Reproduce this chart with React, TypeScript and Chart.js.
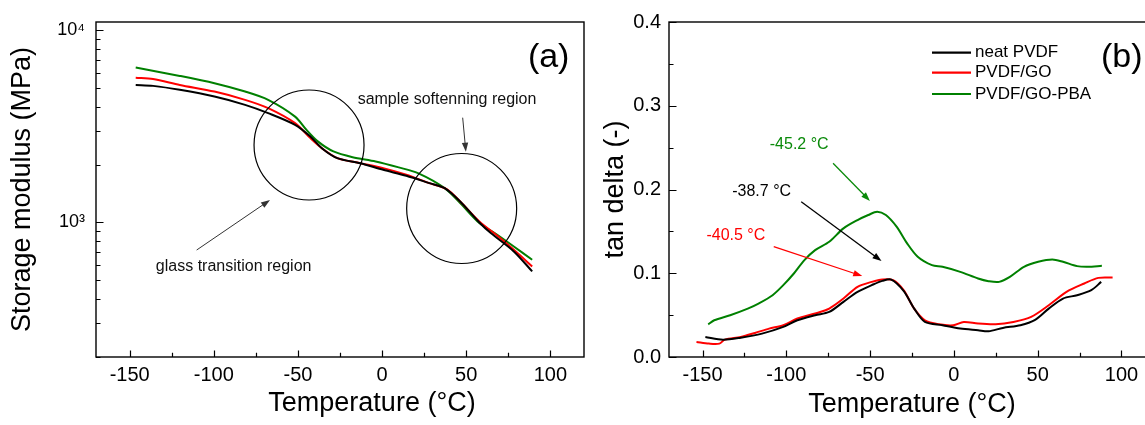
import React, { useEffect, useRef } from 'react';
import { Chart, registerables } from 'chart.js';

Chart.register(...registerables);

const FONT = "'Liberation Sans', Arial, sans-serif";

// ---------- Panel (a): storage modulus ----------
const modNeatT = [-146.4, -136.1, -120.2, -99.6, -81.4, -67.7, -51.7, -42.6, -35.8, -26.6, -12.9, 0.7, 14.4, 28.1, 37.2, 46.4, 57.8, 64.6, 78.3, 89.2];
const modNeat = [5183, 5123, 4887, 4508, 4083, 3698, 3214, 2795, 2432, 2159, 2032, 1877, 1747, 1600, 1507, 1285, 1000, 881, 707, 557];
const modGoT = [-146.4, -136.1, -120.2, -99.6, -81.4, -67.7, -51.7, -42.6, -35.8, -26.6, -12.9, 0.7, 14.4, 28.1, 38.4, 46.4, 57.8, 69.1, 78.3, 89.2];
const modGo = [5654, 5569, 5183, 4786, 4335, 3926, 3281, 2742, 2432, 2159, 2032, 1915, 1770, 1600, 1490, 1285, 1012, 845, 721, 591];
const modPbaT = [-146.4, -120.2, -99.6, -81.4, -67.7, -51.7, -44.9, -38, -28.9, -17.5, -3.8, 9.9, 21.3, 37.2, 46.4, 57.8, 66.9, 78.3, 89.2];
const modPba = [6376, 5771, 5289, 4786, 4335, 3548, 3027, 2630, 2339, 2184, 2075, 1932, 1803, 1507, 1262, 993, 881, 750, 640];

// ---------- Panel (b): tan delta ----------
const tanNeatT = [-148.3, -137.8, -127.2, -114.5, -101.8, -93.4, -82.8, -74.4, -65.9, -57.5, -49, -42.7, -37.4, -30, -23.7, -17.3, -6.8, 3.8, 14.4, 20.7, 29.2, 39.7, 48.2, 56.6, 65.1, 73.5, 82, 87.9];
const tanNeat = [0.0239, 0.0207, 0.0231, 0.0279, 0.0359, 0.0439, 0.0499, 0.0538, 0.0658, 0.0778, 0.0858, 0.0909, 0.0925, 0.079, 0.0578, 0.0419, 0.0379, 0.0339, 0.0319, 0.0307, 0.0347, 0.0379, 0.0439, 0.0578, 0.0698, 0.0738, 0.0798, 0.0897];
const tanGoT = [-153.6, -146.2, -139.9, -136.7, -127.2, -118.7, -110.3, -101.8, -93.4, -82.8, -74.4, -65.9, -57.5, -49, -42.7, -36.3, -30, -23.7, -17.3, -8.9, -0.4, 5.9, 14.4, 24.9, 35.5, 46.1, 56.6, 67.2, 77.8, 86.2, 94.7];
const tanGo = [0.018, 0.016, 0.016, 0.0207, 0.0239, 0.0287, 0.0339, 0.0379, 0.0459, 0.0519, 0.0578, 0.0698, 0.0838, 0.0897, 0.0925, 0.0917, 0.0798, 0.0578, 0.0439, 0.0391, 0.0379, 0.0419, 0.0399, 0.0391, 0.0419, 0.0479, 0.0618, 0.0778, 0.0878, 0.0945, 0.0949];
const tanPbaT = [-146.6, -143, -133.5, -123, -116.6, -108.2, -101.8, -95.5, -89.2, -82.8, -74.4, -65.9, -57.5, -51.1, -45.8, -40.6, -34.2, -27.9, -21.6, -13.1, -6.8, 3.8, 14.4, 20.7, 27, 33.4, 41.8, 50.3, 58.7, 65.1, 73.5, 79.9, 88.3];
const tanPba = [0.039, 0.0439, 0.0499, 0.0578, 0.0638, 0.0738, 0.0858, 0.0997, 0.1157, 0.1276, 0.1376, 0.1536, 0.1635, 0.1695, 0.1735, 0.1695, 0.1556, 0.1356, 0.1197, 0.1097, 0.1077, 0.1017, 0.0937, 0.0905, 0.0897, 0.0957, 0.1077, 0.1137, 0.1165, 0.1137, 0.1085, 0.1077, 0.1089];

const seriesNames = ['neat PVDF', 'PVDF/GO', 'PVDF/GO-PBA'];
const seriesColors = ['#000000', '#ff0000', '#008000'];

const xTickValues = [-150, -100, -50, 0, 50, 100];

// ---------- Annotations (data coordinates) ----------
const circlesA = [
  { at: [-43.4, 2526] },
  { at: [47.3, 1182] },
];
const labelsA = [
  { text: 'sample softenning region', at: [38.6, 4325], color: '#111', size: 16, align: 'center' },
  { text: 'glass transition region', at: [-88.2, 589], color: '#111', size: 16, align: 'center' },
  { text: '(a)', at: [99, 7148], color: '#000', size: 34, align: 'center' },
];
const arrowsA = [
  { from: [47.9, 3502], to: [49.8, 2331], color: '#333', width: 1 },
  { from: [-110.2, 719], to: [-66.6, 1308], color: '#333', width: 1 },
];
const labelsB = [
  { text: '-45.2 °C', at: [-92.3, 0.2531], color: '#0a8a0a', size: 16, align: 'center' },
  { text: '-38.7 °C', at: [-114.7, 0.1974], color: '#000', size: 16, align: 'center' },
  { text: '-40.5 °C', at: [-130.1, 0.1445], color: '#ff0000', size: 16, align: 'center' },
  { text: '(b)', at: [87.8, 0.357], color: '#000', size: 34, align: 'left' },
];
const arrowsB = [
  { from: [-72.1, 0.2313], to: [-50.1, 0.1863], color: '#0a8a0a', width: 1.3 },
  { from: [-91.1, 0.1854], to: [-43.2, 0.1146], color: '#000', width: 1.3 },
  { from: [-107.5, 0.1317], to: [-54.7, 0.0967], color: '#ff0000', width: 1.3 },
];

type Pt = [number, number];

function pts(xs: number[], ys: number[]) {
  return xs.map((x, i) => ({ x, y: ys[i] }));
}

function drawArrow(ctx: CanvasRenderingContext2D, x1: number, y1: number, x2: number, y2: number, color: string, width: number) {
  const ang = Math.atan2(y2 - y1, x2 - x1);
  const hl = 9, hw = 3.2;
  ctx.save();
  ctx.strokeStyle = color;
  ctx.fillStyle = color;
  ctx.lineWidth = width;
  ctx.beginPath();
  ctx.moveTo(x1, y1);
  ctx.lineTo(x2 - Math.cos(ang) * hl * 0.8, y2 - Math.sin(ang) * hl * 0.8);
  ctx.stroke();
  ctx.beginPath();
  ctx.moveTo(x2, y2);
  ctx.lineTo(x2 - Math.cos(ang) * hl - Math.sin(ang) * hw, y2 - Math.sin(ang) * hl + Math.cos(ang) * hw);
  ctx.lineTo(x2 - Math.cos(ang) * hl + Math.sin(ang) * hw, y2 - Math.sin(ang) * hl - Math.cos(ang) * hw);
  ctx.closePath();
  ctx.fill();
  ctx.restore();
}

function decorPlugin(cfg: {
  id: string;
  xTitle: string;
  xTitleX: number;
  xTitleY: number;
  yMajorTest: (v: number) => boolean;
  circles?: { at: Pt }[];
  labels: { text: string; at: Pt; color: string; size: number; align: string }[];
  arrows: { from: Pt; to: Pt; color: string; width: number }[];
  legend?: boolean;
}) {
  return {
    id: cfg.id,
    afterDraw(chart: any) {
      const { ctx, chartArea } = chart;
      const xs = chart.scales.x;
      const ys = chart.scales.y;
      const { left, right, top, bottom } = chartArea;
      ctx.save();
      // frame
      ctx.strokeStyle = '#000';
      ctx.lineWidth = 1.4;
      ctx.strokeRect(left, top, right - left, bottom - top);
      // inside ticks
      ctx.lineWidth = 1.2;
      ctx.beginPath();
      xs.ticks.forEach((t: any) => {
        const p = Math.round(xs.getPixelForValue(t.value)) + 0.5;
        const len = t.value % 50 === 0 ? 6.5 : 4.3;
        ctx.moveTo(p, bottom);
        ctx.lineTo(p, bottom - len);
      });
      ys.ticks.forEach((t: any) => {
        const p = Math.round(ys.getPixelForValue(t.value)) + 0.5;
        const len = cfg.yMajorTest(t.value) ? 7.5 : 4.5;
        ctx.moveTo(left, p);
        ctx.lineTo(left + len, p);
      });
      ctx.stroke();
      // circles
      ctx.lineWidth = 1.2;
      (cfg.circles || []).forEach((c) => {
        ctx.beginPath();
        ctx.arc(xs.getPixelForValue(c.at[0]), ys.getPixelForValue(c.at[1]), 55, 0, Math.PI * 2);
        ctx.stroke();
      });
      // arrows
      cfg.arrows.forEach((a) => {
        drawArrow(ctx, xs.getPixelForValue(a.from[0]), ys.getPixelForValue(a.from[1]),
          xs.getPixelForValue(a.to[0]), ys.getPixelForValue(a.to[1]), a.color, a.width);
      });
      // labels
      ctx.textBaseline = 'middle';
      cfg.labels.forEach((l) => {
        ctx.font = `${l.size}px ${FONT}`;
        ctx.fillStyle = l.color;
        ctx.textAlign = l.align as CanvasTextAlign;
        ctx.fillText(l.text, xs.getPixelForValue(l.at[0]), ys.getPixelForValue(l.at[1]));
      });
      // legend
      if (cfg.legend) {
        const rows = [52.7, 72.7, 94];
        chart.data.datasets.forEach((ds: any, i: number) => {
          ctx.strokeStyle = ds.borderColor;
          ctx.lineWidth = 2.2;
          ctx.beginPath();
          ctx.moveTo(left + 263, rows[i]);
          ctx.lineTo(left + 302, rows[i]);
          ctx.stroke();
          ctx.font = `17px ${FONT}`;
          ctx.fillStyle = '#000';
          ctx.textAlign = 'left';
          ctx.fillText(ds.label, left + 306, rows[i]);
        });
      }
      // x axis title
      ctx.font = `27px ${FONT}`;
      ctx.fillStyle = '#000';
      ctx.textAlign = 'center';
      ctx.textBaseline = 'middle';
      ctx.fillText(cfg.xTitle, cfg.xTitleX, cfg.xTitleY);
      ctx.restore();
    },
  };
}

function xScale() {
  return {
    type: 'linear',
    min: -170,
    max: 120,
    afterBuildTicks: (s: any) => {
      const ticks: any[] = [];
      for (let v = -150; v <= 100; v += 25) ticks.push({ value: v });
      s.ticks = ticks;
    },
    afterFit: (s: any) => { s.height = 68; },
    grid: { display: false, drawTicks: false },
    border: { display: false },
    ticks: {
      autoSkip: false,
      maxRotation: 0,
      padding: 6,
      color: '#000',
      font: { family: FONT, size: 20 },
      callback: (v: any) => (xTickValues.includes(Number(v)) ? String(v) : ''),
    },
  };
}

function isDecadeMult(v: number) {
  const m = v / Math.pow(10, Math.floor(Math.log10(v) + 1e-9));
  return Math.abs(m - Math.round(m)) < 1e-6;
}

export default function App() {
  const refA = useRef<HTMLCanvasElement>(null);
  const refB = useRef<HTMLCanvasElement>(null);

  useEffect(() => {
    const dsA = [
      { label: seriesNames[0], data: pts(modNeatT, modNeat), borderColor: seriesColors[0] },
      { label: seriesNames[1], data: pts(modGoT, modGo), borderColor: seriesColors[1] },
      { label: seriesNames[2], data: pts(modPbaT, modPba), borderColor: seriesColors[2] },
    ];
    const dsB = [
      { label: seriesNames[0], data: pts(tanNeatT, tanNeat), borderColor: seriesColors[0] },
      { label: seriesNames[1], data: pts(tanGoT, tanGo), borderColor: seriesColors[1] },
      { label: seriesNames[2], data: pts(tanPbaT, tanPba), borderColor: seriesColors[2] },
    ];
    const common = {
      animation: false,
      responsive: false,
      devicePixelRatio: 1,
      plugins: { legend: { display: false }, tooltip: { enabled: false } },
      elements: { point: { radius: 0 }, line: { borderWidth: 2, tension: 0.3, fill: false } },
    };

    const chartA = new Chart(refA.current as HTMLCanvasElement, {
      type: 'line',
      data: { datasets: dsA as any },
      options: {
        ...common,
        layout: { padding: { left: 0, top: 22, right: 16, bottom: 0 } },
        scales: {
          x: xScale(),
          y: {
            type: 'logarithmic',
            min: 200,
            max: 11000,
            afterBuildTicks: (s: any) => {
              const ticks: any[] = [];
              for (let d = 100; d <= 1000; d *= 10) {
                for (let m = 1; m <= 10; m++) {
                  const v = m * d;
                  if (v >= 200 && v <= 10000 && !ticks.some((t) => t.value === v)) ticks.push({ value: v });
                }
              }
              s.ticks = ticks.filter((t) => isDecadeMult(t.value));
            },
            afterFit: (s: any) => { s.width = 96; },
            grid: { display: false, drawTicks: false },
            border: { display: false },
            ticks: {
              autoSkip: false,
              padding: 11,
              color: '#000',
              font: { family: FONT, size: 18 },
              callback: (v: any) => (Number(v) === 1000 ? '10³' : Number(v) === 10000 ? '10⁴' : ''),
            },
            title: {
              display: true,
              text: 'Storage modulus (MPa)',
              color: '#000',
              font: { family: FONT, size: 27 },
              padding: { top: 6, bottom: 0 },
            },
          },
        },
      } as any,
      plugins: [decorPlugin({
        id: 'decorA',
        xTitle: 'Temperature (°C)',
        xTitleX: 372,
        xTitleY: 404,
        yMajorTest: (v) => v === 1000 || v === 10000,
        circles: circlesA as any,
        labels: labelsA as any,
        arrows: arrowsA as any,
      })],
    });

    const chartB = new Chart(refB.current as HTMLCanvasElement, {
      type: 'line',
      data: { datasets: dsB as any },
      options: {
        ...common,
        layout: { padding: { left: 0, top: 22, right: 20, bottom: 0 } },
        scales: {
          x: xScale(),
          y: {
            type: 'linear',
            min: 0,
            max: 0.4,
            afterBuildTicks: (s: any) => {
              const ticks: any[] = [];
              for (let i = 0; i <= 8; i++) ticks.push({ value: i * 0.05 });
              s.ticks = ticks;
            },
            afterFit: (s: any) => { s.width = 79; },
            grid: { display: false, drawTicks: false },
            border: { display: false },
            ticks: {
              autoSkip: false,
              padding: 8,
              color: '#000',
              font: { family: FONT, size: 20 },
              callback: (v: any) => {
                const n = Number(v) * 10;
                return Math.abs(n - Math.round(n)) < 1e-6 ? (Math.round(n) / 10).toFixed(1) : '';
              },
            },
            title: {
              display: true,
              text: 'tan delta (-)',
              color: '#000',
              font: { family: FONT, size: 27 },
              padding: { top: 9, bottom: 0 },
            },
          },
        },
      } as any,
      plugins: [decorPlugin({
        id: 'decorB',
        xTitle: 'Temperature (°C)',
        xTitleX: 322,
        xTitleY: 405,
        yMajorTest: (v) => Math.abs(v * 10 - Math.round(v * 10)) < 1e-6,
        labels: labelsB as any,
        arrows: arrowsB as any,
        legend: true,
      })],
    });

    return () => {
      chartA.destroy();
      chartB.destroy();
    };
  }, []);

  return (
    <div style={{ position: 'fixed', left: 0, top: 0, width: 1145, height: 425, overflow: 'hidden', background: '#fff' }}>
      <canvas ref={refA} width={600} height={425} style={{ position: 'absolute', left: 0, top: 0, width: 600, height: 425 }} />
      <canvas ref={refB} width={585} height={425} style={{ position: 'absolute', left: 590, top: 0, width: 585, height: 425 }} />
    </div>
  );
}
